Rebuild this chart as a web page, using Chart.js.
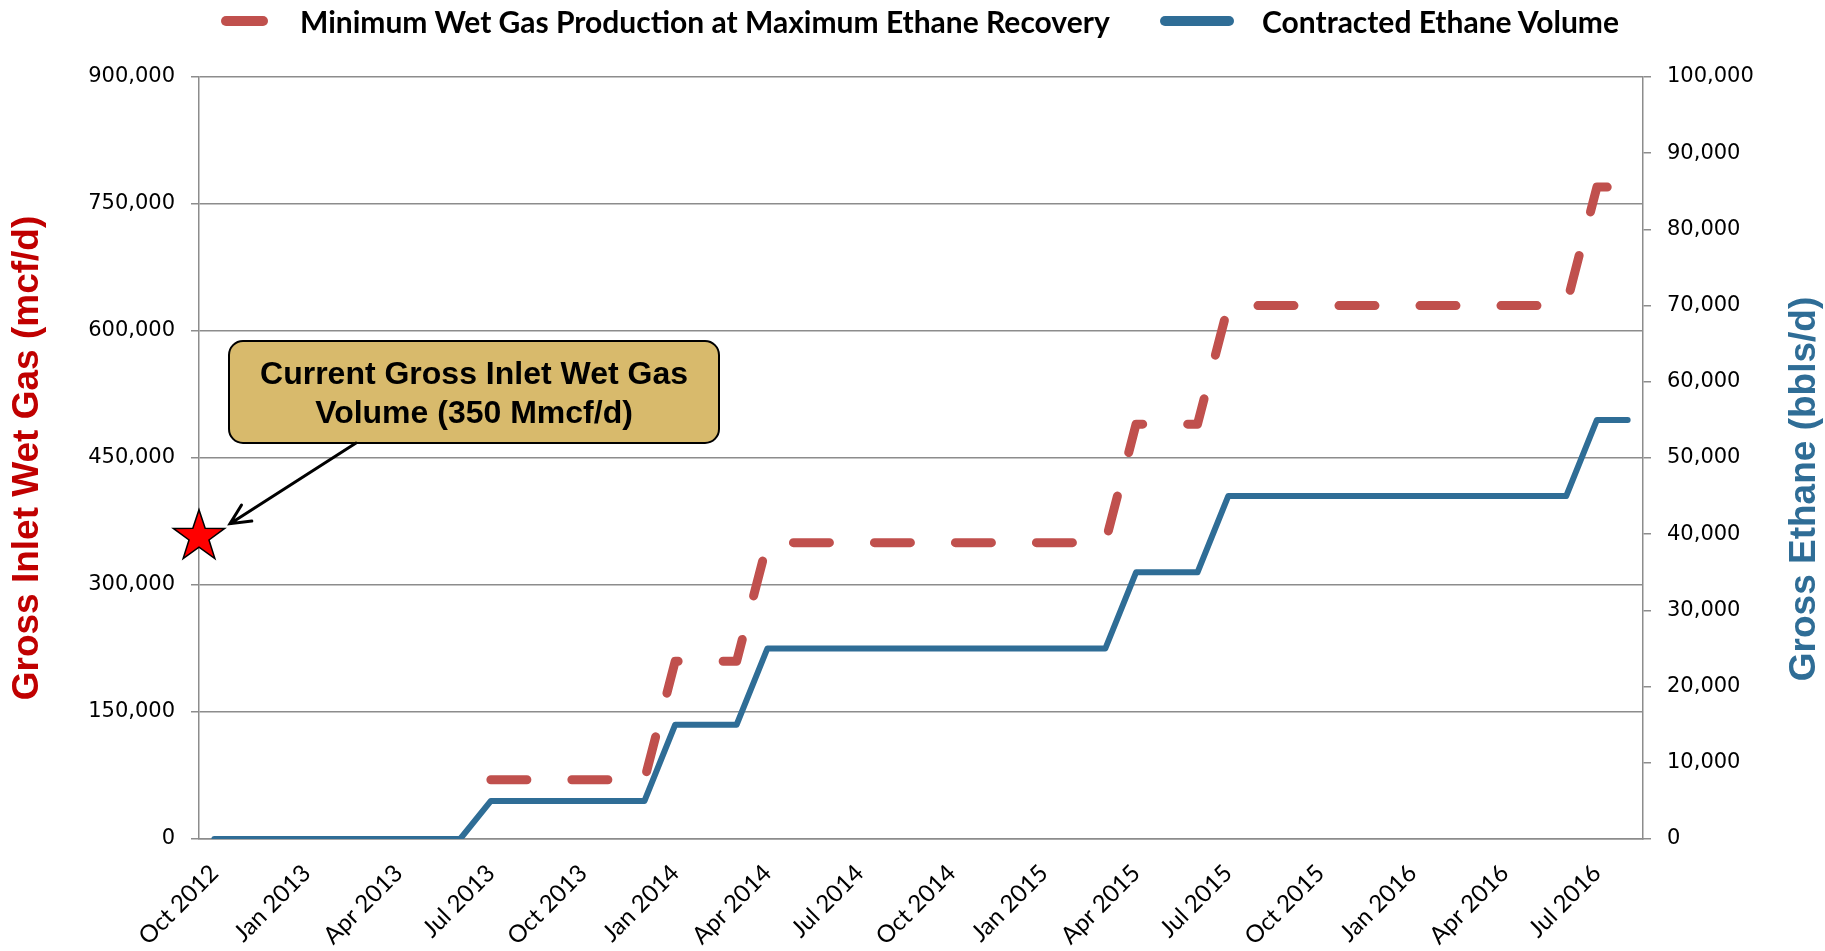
<!DOCTYPE html>
<html>
<head>
<meta charset="utf-8">
<script src="https://cdn.jsdelivr.net/npm/chart.js@4.4.1/dist/chart.umd.min.js"></script>
<style>
  html, body { margin: 0; padding: 0; background: #fff; }
  #wrap { width: 1825px; height: 951px; position: relative; }
  #legend { position: absolute; left: 0; top: 0; width: 1825px; height: 44px; }
  #legend .swatch { position: absolute; top: 16px; height: 10px; border-radius: 5px; }
  #legend .label {
    position: absolute; top: 3px; line-height: 36px; white-space: nowrap;
    font: bold 30px Lato, "Liberation Sans", sans-serif; color: #000;
  }
</style>
</head>
<body>
<div id="wrap">
  <canvas id="gasChart"></canvas>
  <div id="legend"></div>
</div>
<script>
const months = [
  'Oct 2012', 'Nov 2012', 'Dec 2012',
  'Jan 2013', 'Feb 2013', 'Mar 2013', 'Apr 2013', 'May 2013', 'Jun 2013',
  'Jul 2013', 'Aug 2013', 'Sep 2013', 'Oct 2013', 'Nov 2013', 'Dec 2013',
  'Jan 2014', 'Feb 2014', 'Mar 2014', 'Apr 2014', 'May 2014', 'Jun 2014',
  'Jul 2014', 'Aug 2014', 'Sep 2014', 'Oct 2014', 'Nov 2014', 'Dec 2014',
  'Jan 2015', 'Feb 2015', 'Mar 2015', 'Apr 2015', 'May 2015', 'Jun 2015',
  'Jul 2015', 'Aug 2015', 'Sep 2015', 'Oct 2015', 'Nov 2015', 'Dec 2015',
  'Jan 2016', 'Feb 2016', 'Mar 2016', 'Apr 2016', 'May 2016', 'Jun 2016',
  'Jul 2016', 'Aug 2016'
];

// mcf/d, left axis (nothing before Jul 2013)
const minWetGas = [
  null, null, null, null, null, null, null, null, null,
  70000, 70000, 70000, 70000, 70000, 70000,
  210000, 210000, 210000,
  350000, 350000, 350000, 350000, 350000, 350000,
  350000, 350000, 350000, 350000, 350000, 350000,
  490000, 490000, 490000,
  630000, 630000, 630000, 630000, 630000, 630000,
  630000, 630000, 630000, 630000, 630000, 630000,
  770000, 770000
];

// bbls/d, right axis
const ethaneVolume = [
  0, 0, 0, 0, 0, 0, 0, 0, 0,
  5000, 5000, 5000, 5000, 5000, 5000,
  15000, 15000, 15000,
  25000, 25000, 25000, 25000, 25000, 25000,
  25000, 25000, 25000, 25000, 25000, 25000,
  35000, 35000, 35000,
  45000, 45000, 45000, 45000, 45000, 45000,
  45000, 45000, 45000, 45000, 45000, 45000,
  55000, 55000
];

const leftTicks = [0, 150000, 300000, 450000, 600000, 750000, 900000];
const rightTicks = [0, 10000, 20000, 30000, 40000, 50000, 60000, 70000, 80000, 90000, 100000];

const currentWetGas = 357000;   // the star
const calloutLines = ['Current Gross Inlet Wet Gas', 'Volume (350 Mmcf/d)'];

const RED = '#C0504D';
const BLUE = '#2F6D96';
const GRID = '#8C8C8C';

Chart.defaults.font.family = 'Liberation Sans, Arial, sans-serif';
Chart.defaults.color = '#000';

function drawStar(ctx, cx, cy, R, r) {
  ctx.beginPath();
  for (let i = 0; i < 10; i++) {
    const rad = i % 2 === 0 ? R : r;
    const a = -Math.PI / 2 + i * Math.PI / 5;
    const px = cx + rad * Math.cos(a);
    const py = cy + rad * Math.sin(a);
    if (i === 0) ctx.moveTo(px, py); else ctx.lineTo(px, py);
  }
  ctx.closePath();
}

// callout box, arrow, star and the right-hand axis title
const extras = {
  id: 'extras',
  afterDatasetsDraw(chart) {
    const ctx = chart.ctx;
    const area = chart.chartArea;
    const yL = chart.scales.yGas;

    const starX = area.left;
    const starY = yL.getPixelForValue(currentWetGas);

    ctx.save();
    // box
    const bx = area.left + 30, by = 341, bw = 490, bh = 102;
    ctx.beginPath();
    ctx.roundRect(bx, by, bw, bh, 14);
    ctx.fillStyle = '#D8BA6C';
    ctx.fill();
    ctx.lineWidth = 2;
    ctx.strokeStyle = '#000';
    ctx.stroke();

    ctx.fillStyle = '#000';
    ctx.font = 'bold 32px "Liberation Sans", Arial, sans-serif';
    ctx.textAlign = 'center';
    ctx.textBaseline = 'middle';
    ctx.fillText(calloutLines[0], bx + bw / 2, by + 34);
    ctx.fillText(calloutLines[1], bx + bw / 2, by + 73);

    // arrow
    const fromX = bx + 127, fromY = by + bh;
    const tipX = starX + 31, tipY = starY - 13;
    ctx.beginPath();
    ctx.moveTo(fromX, fromY);
    ctx.lineTo(tipX, tipY);
    const ang = Math.atan2(fromY - tipY, fromX - tipX);
    const hl = 22, spread = 0.45;
    ctx.moveTo(tipX + hl * Math.cos(ang - spread), tipY + hl * Math.sin(ang - spread));
    ctx.lineTo(tipX, tipY);
    ctx.lineTo(tipX + hl * Math.cos(ang + spread), tipY + hl * Math.sin(ang + spread));
    ctx.lineWidth = 3;
    ctx.lineCap = 'round';
    ctx.lineJoin = 'miter';
    ctx.stroke();

    // star
    drawStar(ctx, starX, starY, 27, 10.5);
    ctx.fillStyle = '#FF0000';
    ctx.fill();
    ctx.lineWidth = 1.5;
    ctx.strokeStyle = '#000';
    ctx.lineJoin = 'miter';
    ctx.stroke();

    // right axis title, reading bottom to top
    ctx.translate(1805, 489);
    ctx.rotate(-Math.PI / 2);
    ctx.font = 'bold 37px "Liberation Sans", Arial, sans-serif';
    ctx.fillStyle = BLUE;
    ctx.fillText('Gross Ethane (bbls/d)', 0, 0);
    ctx.restore();
  }
};

const ctx = document.getElementById('gasChart');
const gasChart = new Chart(ctx, {
  type: 'line',
  data: {
    labels: months,
    datasets: [{
      label: 'Minimum Wet Gas Production at Maximum Ethane Recovery',
      data: minWetGas,
      yAxisID: 'yGas',
      borderColor: RED,
      backgroundColor: RED,
      borderWidth: 9,
      borderDash: [36, 45],
      borderCapStyle: 'round',
      borderJoinStyle: 'round',
      pointRadius: 0,
      tension: 0,
      fill: false
    }, {
      label: 'Contracted Ethane Volume',
      data: ethaneVolume,
      yAxisID: 'yEthane',
      borderColor: BLUE,
      backgroundColor: BLUE,
      borderWidth: 6,
      borderCapStyle: 'round',
      borderJoinStyle: 'round',
      pointRadius: 0,
      tension: 0,
      fill: false
    }]
  },
  options: {
    responsive: true,
    maintainAspectRatio: false,
    devicePixelRatio: 1,
    animation: false,
    layout: { padding: 0 },
    plugins: {
      tooltip: { enabled: false },
      legend: { display: false }
    },
    scales: {
      x: {
        offset: true,
        grid: { display: true, drawOnChartArea: false, drawTicks: false },
        border: { display: true, color: GRID, width: 1.5 },
        ticks: {
          autoSkip: false,
          minRotation: 45,
          maxRotation: 45,
          padding: 20,
          font: { family: 'Lato, "Liberation Sans", sans-serif', size: 24 },
          color: '#000',
          callback(value, index) {
            return index % 3 === 0 ? this.getLabelForValue(value) : '';
          }
        },
        afterFit(s) { s.height = 112; s.paddingLeft = 0; s.paddingRight = 0; }
      },
      yGas: {
        position: 'left',
        min: leftTicks[0],
        max: leftTicks[leftTicks.length - 1],
        afterBuildTicks(s) { s.ticks = leftTicks.map(v => ({ value: v })); },
        grid: { color: GRID, lineWidth: 1.5, tickLength: 8, drawTicks: true },
        border: { display: true, color: GRID, width: 1.5 },
        ticks: {
          padding: 16,
          color: '#000',
          font: { family: '"DejaVu Sans", Verdana, sans-serif', size: 21 },
          callback: v => v.toLocaleString('en-US')
        },
        title: {
          display: true,
          text: 'Gross Inlet Wet Gas (mcf/d)',
          color: '#C00000',
          font: { family: '"Liberation Sans", Arial, sans-serif', weight: 'bold', size: 37 },
          padding: { top: 6, bottom: 0 }
        },
        afterFit(s) { s.width = 199; s.paddingTop = 77; }
      },
      yEthane: {
        position: 'right',
        min: rightTicks[0],
        max: rightTicks[rightTicks.length - 1],
        afterBuildTicks(s) { s.ticks = rightTicks.map(v => ({ value: v })); },
        grid: { drawOnChartArea: false, color: GRID, lineWidth: 1.5, tickLength: 8, drawTicks: true },
        border: { display: true, color: GRID, width: 1.5 },
        ticks: {
          padding: 16,
          color: '#000',
          font: { family: '"DejaVu Sans", Verdana, sans-serif', size: 21 },
          callback: v => v.toLocaleString('en-US')
        },
        afterFit(s) { s.width = 182; }
      }
    }
  },
  plugins: [extras]
});

// legend above the plot, built from the datasets
const legendEl = document.getElementById('legend');
const legendSlots = [
  { swatchLeft: 221, swatchWidth: 47, textLeft: 300 },
  { swatchLeft: 1160, swatchWidth: 74, textLeft: 1262 }
];
gasChart.data.datasets.forEach((ds, i) => {
  const slot = legendSlots[i];
  const sw = document.createElement('span');
  sw.className = 'swatch';
  sw.style.left = slot.swatchLeft + 'px';
  sw.style.width = slot.swatchWidth + 'px';
  sw.style.background = ds.borderColor;
  const tx = document.createElement('span');
  tx.className = 'label';
  tx.style.left = slot.textLeft + 'px';
  tx.textContent = ds.label;
  legendEl.appendChild(sw);
  legendEl.appendChild(tx);
});
</script>
</body>
</html>
